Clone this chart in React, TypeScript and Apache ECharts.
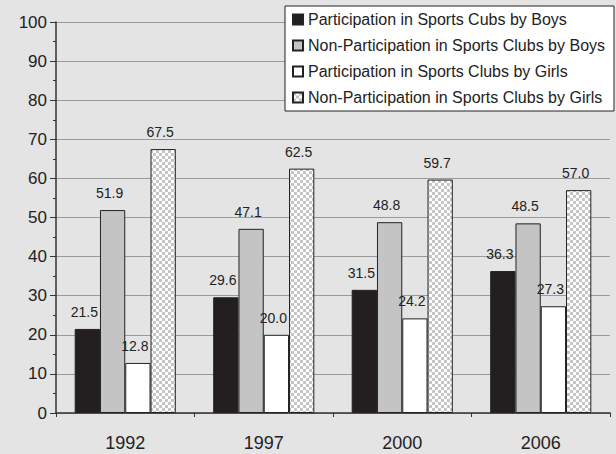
import React, { useEffect, useRef } from "react";
import * as echarts from "echarts";

const categories = ["1992", "1997", "2000", "2006"];
const seriesNames = [
  "Participation in Sports Cubs by Boys",
  "Non-Participation in Sports Clubs by Boys",
  "Participation in Sports Clubs by Girls",
  "Non-Participation in Sports Clubs by Girls",
];
const boysPart = [21.5, 29.6, 31.5, 36.3];
const boysNon = [51.9, 47.1, 48.8, 48.5];
const girlsPart = [12.8, 20.0, 24.2, 27.3];
const girlsNon = [67.5, 62.5, 59.7, 57.0];

function makeChecker(): HTMLCanvasElement {
  const c = document.createElement("canvas");
  c.width = 6;
  c.height = 6;
  const ctx = c.getContext("2d")!;
  ctx.fillStyle = "#ffffff";
  ctx.fillRect(0, 0, 6, 6);
  ctx.fillStyle = "#c6c6c6";
  ctx.fillRect(0, 0, 3, 3);
  ctx.fillRect(3, 3, 3, 3);
  return c;
}

export default function App() {
  const ref = useRef<HTMLDivElement>(null);
  useEffect(() => {
    document.body.style.margin = "0";
    const chart = echarts.init(ref.current!, null, { renderer: "svg" });
    const font = "'Liberation Sans', Arial, sans-serif";
    const checker = { image: makeChecker(), repeat: "repeat" } as any;
    const fills = ["#231f20", "#c4c4c4", "#ffffff", checker];
    const datas = [boysPart, boysNon, girlsPart, girlsNon];
    chart.setOption({
      animation: false,
      backgroundColor: "#e4e4e4",
      textStyle: { fontFamily: font },
      grid: { left: 56, right: 6, top: 22, bottom: 41 },
      graphic: [
        {
          type: "rect",
          shape: { x: 285, y: 6, width: 329, height: 105 },
          style: { fill: "#ffffff", stroke: "#222", lineWidth: 1 },
          z: 10,
        },
      ],
      legend: {
        orient: "vertical",
        left: 287,
        top: 6,
        padding: [5, 4, 5, 5],
        itemWidth: 10,
        itemHeight: 10,
        itemGap: 9,
        icon: "rect",
        z: 20,
        textStyle: { fontSize: 16, color: "#222", lineHeight: 17, fontFamily: font },
        data: seriesNames,
      },
      xAxis: {
        type: "category",
        data: categories,
        axisLine: { lineStyle: { color: "#333", width: 1.5 } },
        axisTick: { show: true, length: 4, lineStyle: { color: "#333" } },
        axisLabel: { fontSize: 18, color: "#222", margin: 21, fontFamily: font },
      },
      yAxis: {
        type: "value",
        min: 0,
        max: 100,
        interval: 10,
        axisLine: { show: true, lineStyle: { color: "#333", width: 1.5 } },
        axisTick: { show: true, length: 6, lineStyle: { color: "#333" } },
        minorTick: { show: true, splitNumber: 2, length: 3, lineStyle: { color: "#333" } },
        axisLabel: { fontSize: 17, color: "#222", margin: 9, fontFamily: font },
        splitLine: { show: true, lineStyle: { color: "#9a9a9a", width: 1 } },
      },
      series: datas.map((d, i) => ({
        name: seriesNames[i],
        type: "bar",
        data: d,
        barGap: "0%",
        barCategoryGap: "27%",
        itemStyle: { color: fills[i], borderColor: "#222", borderWidth: 1 },
        label: {
          show: true,
          position: "top",
          distance: 10,
          offset: [-3, 0],
          fontSize: 14,
          color: "#222",
          fontFamily: font,
          formatter: (p: any) => Number(p.value).toFixed(1),
        },
      })),
    });
    return () => chart.dispose();
  }, []);
  return <div ref={ref} style={{ width: 616, height: 454 }} />;
}
